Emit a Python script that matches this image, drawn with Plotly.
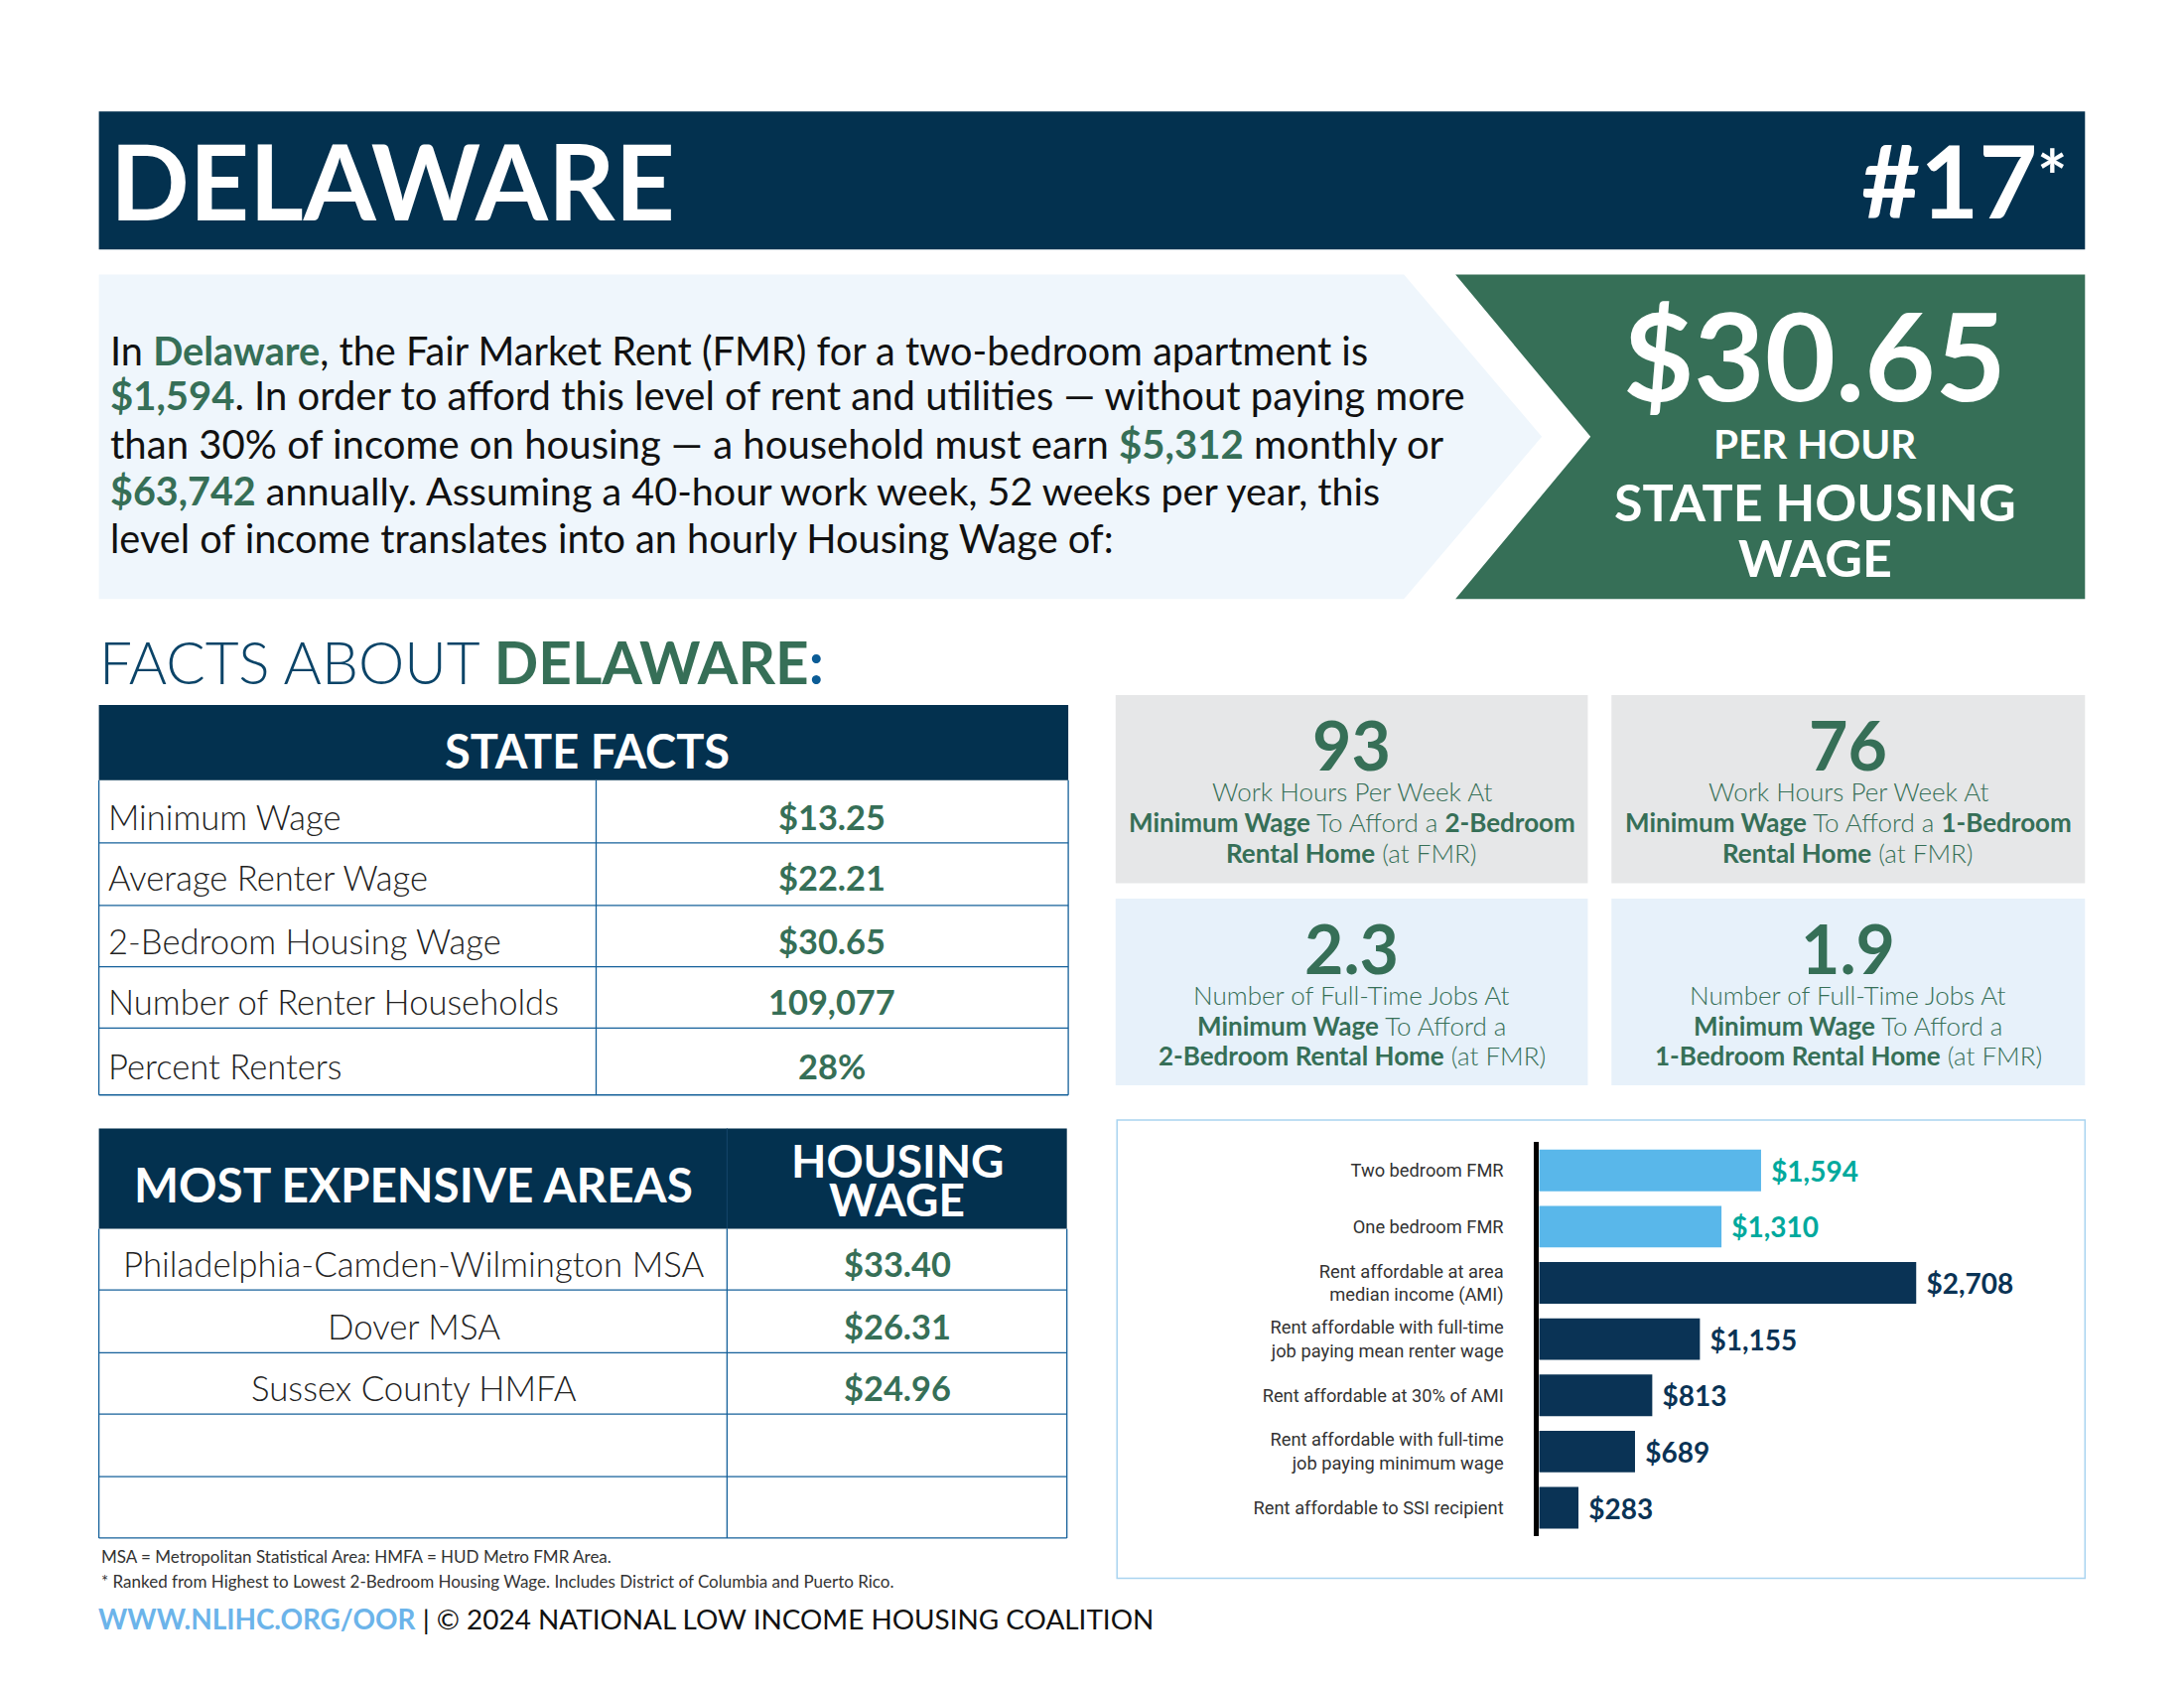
import plotly.graph_objects as go

W = 2200
H = 1700
K = 1.403  # layout below is measured on the picture at 1568 wide, K brings it to real pixels

NAVY = "#03314F"
GREEN = "#366F57"
RULE = "#15609A"
SANS = "Lato"

# chart data
bar_labels = [
    "Two bedroom FMR",
    "One bedroom FMR",
    "Rent affordable at area<br>median income (AMI)",
    "Rent affordable with full-time<br>job paying mean renter wage",
    "Rent affordable at 30% of AMI",
    "Rent affordable with full-time<br>job paying minimum wage",
    "Rent affordable to SSI recipient",
]
bar_values = [1594, 1310, 2708, 1155, 813, 689, 283]
bar_colors = ["#59B7EA", "#59B7EA", "#0A3355", "#0A3355", "#0A3355", "#0A3355", "#0A3355"]
bar_text_colors = ["#00A99D", "#00A99D", "#0A3355", "#0A3355", "#0A3355", "#0A3355", "#0A3355"]

# state facts table
fact_labels = ["Minimum Wage", "Average Renter Wage", "2-Bedroom Housing Wage",
               "Number of Renter Households", "Percent Renters"]
fact_values = ["$13.25", "$22.21", "$30.65", "109,077", "28%"]

# most expensive areas table
area_names = ["Philadelphia-Camden-Wilmington MSA", "Dover MSA", "Sussex County HMFA", "", ""]
area_wages = ["$33.40", "$26.31", "$24.96", "", ""]

# the four cards
card_numbers = ["93", "76", "2.3", "1.9"]
card_lines = [
    ["Work Hours Per Week At", "<b>Minimum Wage</b> To Afford a <b>2-Bedroom</b>", "<b>Rental Home</b> (at FMR)"],
    ["Work Hours Per Week At", "<b>Minimum Wage</b> To Afford a <b>1-Bedroom</b>", "<b>Rental Home</b> (at FMR)"],
    ["Number of Full-Time Jobs At", "<b>Minimum Wage</b> To Afford a", "<b>2-Bedroom Rental Home</b> (at FMR)"],
    ["Number of Full-Time Jobs At", "<b>Minimum Wage</b> To Afford a", "<b>1-Bedroom Rental Home</b> (at FMR)"],
]


def g(s):
    return f'<span style="color:{GREEN}"><b>{s}</b></span>'


intro_lines = [
    f"In {g('Delaware')}, the Fair Market Rent (FMR) for a two-bedroom apartment is",
    f"{g('$1,594')}. In order to afford this level of rent and utilities — without paying more",
    f"than 30% of income on housing — a household must earn {g('$5,312')} monthly or",
    f"{g('$63,742')} annually. Assuming a 40-hour work week, 52 weeks per year, this",
    "level of income translates into an hourly Housing Wage of:",
]
intro_y = [251, 284, 318, 352, 386]
intro_size = [39.7, 40, 40.1, 39.5, 39.7]

shapes = []
annotations = []


def fx(x):
    return x * K / W


def fy(y):
    return 1 - y * K / H


def rect(x0, y0, x1, y1, fill, line=None, width=0):
    shapes.append(dict(type="rect", xref="paper", yref="paper", layer="below",
                       x0=fx(x0), x1=fx(x1), y0=fy(y0), y1=fy(y1),
                       fillcolor=fill, line=dict(color=line, width=width)))


def rule(x0, y0, x1, y1, color=RULE, width=1.3):
    shapes.append(dict(type="line", xref="paper", yref="paper", layer="below",
                       x0=fx(x0), x1=fx(x1), y0=fy(y0), y1=fy(y1),
                       line=dict(color=color, width=width)))


def poly(points, fill):
    path = "M " + " L ".join(f"{fx(x)},{fy(y)}" for x, y in points) + " Z"
    shapes.append(dict(type="path", xref="paper", yref="paper", layer="below", path=path,
                       fillcolor=fill, line=dict(width=0)))


def label(x, y, text, size, color="#111111", anchor="left", family=SANS, weight=400):
    annotations.append(dict(xref="paper", yref="paper", x=fx(x), y=fy(y), text=text,
                            showarrow=False, xanchor=anchor, yanchor="middle",
                            font=dict(family=family, size=size, color=color, weight=weight)))


# banner
rect(71, 80, 1497, 179, NAVY)
label(78, 129, "<b>DELAWARE</b>", 105, "white")
label(1464, 129, "<b>#17</b>", 102, "white", "right")
label(1461, 126, "<b>*</b>", 72, "white")

# intro arrow and wage box
poly([(71, 197), (1008, 197), (1107, 313.5), (1008, 430), (71, 430)], "#EFF6FC")
poly([(1045, 197), (1497, 197), (1497, 430), (1045, 430), (1142, 313.5)], GREEN)
for y, line, size in zip(intro_y, intro_lines, intro_size):
    label(78, y, line, size, "#111111")
label(1303, 254, "<b>$30.65</b>", 123, "white", "center")
label(1303.5, 318, "<b>PER HOUR</b>", 40.5, "white", "center")
label(1303, 360, "<b>STATE HOUSING</b>", 52, "white", "center")
label(1303, 400, "<b>WAGE</b>", 52, "white", "center")

# section heading
label(70, 475, f'FACTS ABOUT {g("DELAWARE")}<span style="color:#0B5C96"><b>:</b></span>', 58.5, "#0B4468",
      weight=300)

# state facts table
fact_rows = [560, 605, 650, 694, 738, 786]
fact_text_y = [586, 630, 675, 719, 765.5]
rect(71, 506, 767, 560, NAVY)
label(421.5, 539, "<b>STATE FACTS</b>", 47, "white", "center")
for y in fact_rows[1:]:
    rule(71, y, 767, y)
for x in (71, 428, 767):
    rule(x, 560, x, 786)
for y, name, val in zip(fact_text_y, fact_labels, fact_values):
    label(76, y, name, 34.6, "#222222", weight=300)
    label(597, y, f"<b>{val}</b>", 34.4, GREEN, "center")

# most expensive areas table
area_rows = [882, 926, 971, 1015, 1060, 1104]
area_text_y = [907, 952, 996]
rect(71, 810, 766, 882, NAVY)
rule(522, 810, 522, 882, "#15476B", 1)
label(297, 850, "<b>MOST EXPENSIVE AREAS</b>", 47.7, "white", "center")
label(644, 833, "<b>HOUSING</b>", 46, "white", "center")
label(644, 861, "<b>WAGE</b>", 46, "white", "center")
for y in area_rows[1:]:
    rule(71, y, 766, y)
for x in (71, 522, 766):
    rule(x, 882, x, 1104)
for y, name, val in zip(area_text_y, area_names, area_wages):
    label(297, y, name, 34.8, "#222222", "center", weight=300)
    label(644, y, f"<b>{val}</b>", 34.4, GREEN, "center")

# footnotes
label(71, 1117, "MSA = Metropolitan Statistical Area: HMFA = HUD Metro FMR Area.", 17, "#333333")
label(71, 1135, "* Ranked from Highest to Lowest 2-Bedroom Housing Wage. Includes District of Columbia and Puerto Rico.",
      17, "#333333")
label(69, 1162, '<span style="color:#6CB4EA"><b>WWW.NLIHC.ORG/OOR</b></span> | © 2024 NATIONAL LOW INCOME HOUSING COALITION',
      27.9, "#111111")

# cards
card_boxes = [(801, 499, 1140, 634, "#E6E7E8"), (1157, 499, 1497, 634, "#E6E7E8"),
              (801, 645, 1140, 779, "#E7F1FA"), (1157, 645, 1497, 779, "#E7F1FA")]
for box, number, lines in zip(card_boxes, card_numbers, card_lines):
    x0, y0, x1, y1, fill = box
    cx = (x0 + x1) / 2
    rect(x0, y0, x1, y1, fill)
    label(cx, y0 + 35, f"<b>{number}</b>", 68, GREEN, "center")
    for k, line in enumerate(lines):
        label(cx, y0 + 69 + k * 22, line, 26, GREEN, "center", weight=300)

# chart frame
rect(802, 804, 1497, 1133, "rgba(0,0,0,0)", "#A9D4F0", 1.5)

fig = go.Figure()
fig.add_trace(go.Bar(
    y=bar_labels,
    x=bar_values,
    orientation="h",
    marker=dict(color=bar_colors, line=dict(width=0)),
    width=0.74,
    texttemplate="\u00a0<b>$%{x:,}</b>",
    textposition="outside",
    textfont=dict(family=SANS, size=28, color=bar_text_colors),
    cliponaxis=False,
    hoverinfo="skip",
))

fig.update_layout(
    width=W,
    height=H,
    margin=dict(l=0, r=0, t=0, b=0),
    paper_bgcolor="white",
    plot_bgcolor="rgba(0,0,0,0)",
    showlegend=False,
    shapes=shapes,
    annotations=annotations,
    xaxis=dict(domain=[fx(1105), fx(1490)], range=[0, 3850], visible=False, fixedrange=True),
    yaxis=dict(domain=[fy(1102.5), fy(820)], autorange="reversed", type="category",
               showline=True, linecolor="black", linewidth=5, ticks="", ticklabelstandoff=27,
               tickfont=dict(family="Roboto", size=18.3, color="#333333"), showgrid=False,
               fixedrange=True),
)

fig.write_html("out.html", config={"displayModeBar": False},
               post_script="document.body.style.margin = '0';")
